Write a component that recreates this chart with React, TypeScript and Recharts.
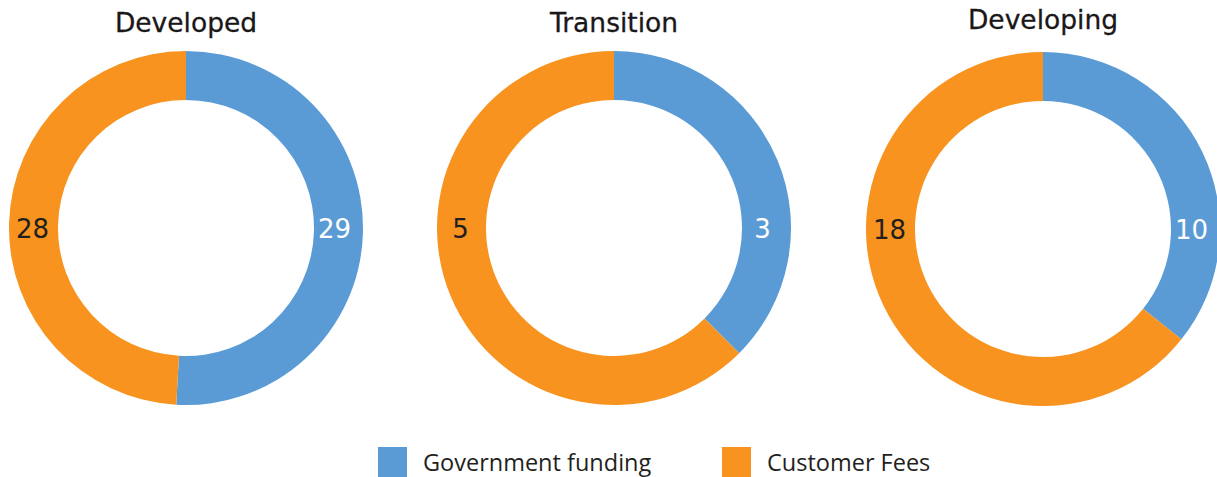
import * as React from "react"
import { PieChart, Pie, Cell } from "recharts"

const SERIES = ["Government funding", "Customer Fees"]
const COLORS = ["#5B9BD5", "#F7931E"]
const LABEL_COLORS = ["#ffffff", "#231f20"]

const REGIONS = ["Developed", "Transition", "Developing"]
const GOVERNMENT = [29, 3, 10]
const CUSTOMER = [28, 5, 18]

// layout of each donut: centre x / y and title baseline
const CENTERS = [
  { cx: 186, cy: 228, titleY: 33 },
  { cx: 614, cy: 228, titleY: 33 },
  { cx: 1043, cy: 229, titleY: 30 },
]
const LEGEND_X = [378, 722]

const WIDTH = 1217
const HEIGHT = 477
const FONT = "'DejaVu Sans', sans-serif"

interface LabelProps {
  cx: number
  cy: number
  innerRadius: number
  outerRadius: number
  value: number
  index: number
}

// labels sit at 3 o'clock (government) and 9 o'clock (customer), not at slice midpoints
function SideLabel({ cx, cy, innerRadius, outerRadius, value, index }: LabelProps) {
  const r = (innerRadius + outerRadius) / 2
  const x = index === 0 ? cx + r - 4 : cx - r - 1
  return (
    <text
      x={x}
      y={cy + 1}
      textAnchor="middle"
      dominantBaseline="central"
      fill={LABEL_COLORS[index]}
      fontSize={26}
      fontFamily={FONT}
    >
      {value}
    </text>
  )
}

export default function App() {
  const data = REGIONS.map((region, i) => [
    { name: SERIES[0], value: GOVERNMENT[i] },
    { name: SERIES[1], value: CUSTOMER[i] },
  ])

  return (
    <div style={{ position: "absolute", left: 0, top: 0, width: WIDTH, height: HEIGHT, background: "#fff", overflow: "hidden" }}>
      <PieChart width={WIDTH} height={HEIGHT} margin={{ top: 0, right: 0, bottom: 0, left: 0 }}>
        {data.map((d, i) => (
          <Pie
            key={REGIONS[i]}
            data={d}
            dataKey="value"
            nameKey="name"
            cx={CENTERS[i].cx}
            cy={CENTERS[i].cy}
            innerRadius={128}
            outerRadius={177}
            startAngle={90}
            endAngle={-270}
            stroke="none"
            labelLine={false}
            label={SideLabel as any}
            isAnimationActive={false}
          >
            {d.map((entry, j) => (
              <Cell key={entry.name} fill={COLORS[j]} />
            ))}
          </Pie>
        ))}
      </PieChart>

      {REGIONS.map((region, i) => (
        <div
          key={region}
          style={{
            position: "absolute",
            left: CENTERS[i].cx - 150,
            width: 300,
            top: CENTERS[i].titleY - 26,
            textAlign: "center",
            fontFamily: FONT,
            fontSize: 26.5,
            lineHeight: "32px",
            color: "#1a1718",
            WebkitTextStroke: "0.3px #1a1718",
          }}
        >
          {region}
        </div>
      ))}

      {SERIES.map((s, i) => (
        <div
          key={s}
          style={{
            position: "absolute",
            left: LEGEND_X[i],
            top: 447,
            height: 30,
            display: "flex",
            alignItems: "center",
            fontFamily: "'Open Sans', sans-serif",
            fontSize: 23.5,
            color: "#231f20",
            whiteSpace: "nowrap",
          }}
        >
          <span style={{ width: 29, height: 30, background: COLORS[i], display: "inline-block", marginRight: 16 }} />
          <span>{s}</span>
        </div>
      ))}
    </div>
  )
}
